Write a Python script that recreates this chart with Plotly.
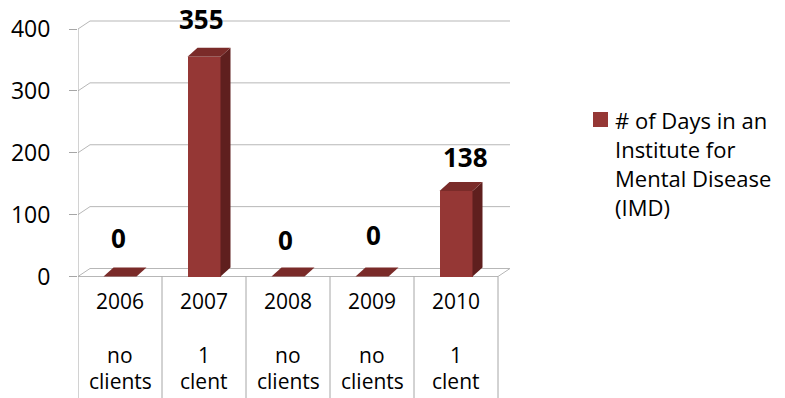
import plotly.graph_objects as go

# ---- data -------------------------------------------------------------
years = ["2006", "2007", "2008", "2009", "2010"]
client_notes = [["no", "clients"], ["1", "clent"], ["no", "clients"],
                ["no", "clients"], ["1", "clent"]]
days_in_imd = [0, 355, 0, 0, 138]
y_ticks = [0, 100, 200, 300, 400]
legend_lines = ["# of Days in an", "Institute for", "Mental Disease", "(IMD)"]

# ---- geometry / style -------------------------------------------------
W, H = 785, 398
PLOT_L, PLOT_R = 78, 510          # plot area in pixels (front left .. back right)
ZERO_PX, TOP_PX = 276.5, 29.0     # pixel rows of value 0 and 400 on the front plane
PX_PER_CAT = 84.0
PX_PER_UNIT = (ZERO_PX - TOP_PX) / 400.0

def cat_dx(px):
    return px / PX_PER_CAT

def val_dy(px):
    return px / PX_PER_UNIT

WALL_DX, WALL_DY = cat_dx(12), val_dy(8)     # depth of floor / back wall
BAR_DX, BAR_DY = cat_dx(10), val_dy(9)       # depth of each column
BAR_W = 33 / PX_PER_CAT

n = len(years)
xs = list(range(n))
x_lo, x_hi = -0.5, n - 0.5
y_top = ZERO_PX / PX_PER_UNIT
y_bot = -(H - ZERO_PX) / PX_PER_UNIT

FRONT = "#953735"
TOP = "#7a2b29"
SIDE = "#5f1f1e"
GRID = "#b7b7b7"
BOX = "#a6a6a6"
FONT = "Open Sans"

fig = go.Figure()

# side and top faces of each column
for x, v in zip(xs, days_in_imd):
    l, r = x - BAR_W / 2, x + BAR_W / 2
    if v > 0:
        fig.add_trace(go.Scatter(
            x=[r, r + BAR_DX, r + BAR_DX, r, r],
            y=[0, BAR_DY, v + BAR_DY, v, 0],
            mode="lines", fill="toself", fillcolor=SIDE,
            line=dict(width=0, color=SIDE), hoverinfo="skip", showlegend=False))
    fig.add_trace(go.Scatter(
        x=[l, r, r + BAR_DX, l + BAR_DX, l],
        y=[v, v, v + BAR_DY, v + BAR_DY, v],
        mode="lines", fill="toself", fillcolor=TOP,
        line=dict(width=0, color=TOP), hoverinfo="skip", showlegend=False))

# front faces
fig.add_trace(go.Bar(
    x=xs, y=days_in_imd, width=BAR_W, marker=dict(color=FRONT, line=dict(width=0)),
    name=" ".join(legend_lines), showlegend=False, hoverinfo="y"))

shapes = []

def seg(x0, y0, x1, y1, color=GRID, width=1):
    shapes.append(dict(type="line", xref="x", yref="y", x0=x0, y0=y0, x1=x1, y1=y1,
                       line=dict(color=color, width=width), layer="below"))

# back wall gridlines with their diagonal lead-ins
for t in y_ticks:
    seg(x_lo, t, x_lo + WALL_DX, t + WALL_DY)
    seg(x_lo + WALL_DX, t + WALL_DY, x_hi + WALL_DX, t + WALL_DY)
# floor front edge and right end
seg(x_lo, 0, x_hi, 0)
seg(x_hi, 0, x_hi + WALL_DX, WALL_DY)
# front left edge of the wall, continuing as the table border
seg(x_lo, y_ticks[-1], x_lo, y_bot, color=BOX)
# category table dividers
for k in range(1, n + 1):
    seg(x_lo + k, 0, x_lo + k, y_bot, color=BOX)

# legend swatch
shapes.append(dict(type="rect", xref="paper", yref="paper",
                   x0=593 / W, x1=608 / W, y0=1 - 127 / H, y1=1 - 112 / H,
                   fillcolor=FRONT, line=dict(width=0)))

annotations = []

# value labels, nudged the way the chart places them
label_nudge = [(-2, -39), (-3, -38), (-3, -37), (1, -42), (9, -34)]
for x, v, (nx, ny) in zip(xs, days_in_imd, label_nudge):
    annotations.append(dict(x=x, y=v, xref="x", yref="y", text=f"<b>{v}</b>",
                            showarrow=False, xshift=nx, yshift=-ny,
                            font=dict(family=FONT, size=26, color="black")))

# category table text
for x, yr, note in zip(xs, years, client_notes):
    annotations.append(dict(x=x, y=0, xref="x", yref="y", text=yr, showarrow=False,
                            yshift=-(301 - ZERO_PX), font=dict(family=FONT, size=21, color="black")))
    for j, line in enumerate(note):
        annotations.append(dict(x=x, y=0, xref="x", yref="y", text=line, showarrow=False,
                                yshift=-(355 + 26 * j - ZERO_PX),
                                font=dict(family=FONT, size=21, color="black")))

# legend text
for j, line in enumerate(legend_lines):
    annotations.append(dict(x=613 / W, y=1 - (120 + 29 * j) / H, xref="paper", yref="paper",
                            text=line, showarrow=False, xanchor="left", yanchor="middle",
                            font=dict(family=FONT, size=22, color="black")))

fig.update_layout(
    width=W, height=H,
    margin=dict(l=0, r=0, t=0, b=0),
    paper_bgcolor="white", plot_bgcolor="white",
    showlegend=False,
    xaxis=dict(domain=[PLOT_L / W, PLOT_R / W], range=[x_lo, x_hi + WALL_DX],
               showgrid=False, zeroline=False, showticklabels=False, ticks="",
               showline=False, fixedrange=True),
    yaxis=dict(domain=[0, 1], range=[y_bot, y_top], tickvals=y_ticks,
               ticktext=[str(t) for t in y_ticks], ticks="outside", ticklen=8,
               tickcolor=BOX, tickwidth=1, ticklabelstandoff=14,
               showgrid=False, zeroline=False, showline=False,
               tickfont=dict(family=FONT, size=23, color="black"), fixedrange=True),
    shapes=shapes,
    annotations=annotations,
    bargap=0,
)

fig.write_html("out.html")
